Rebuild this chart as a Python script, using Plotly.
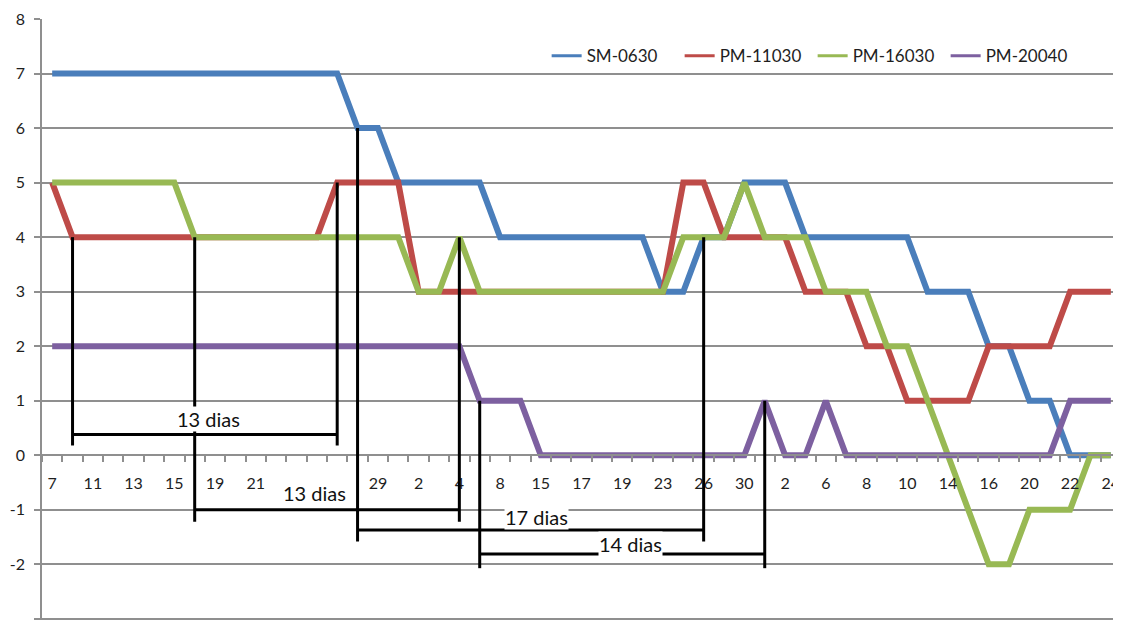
import plotly.graph_objects as go

# ---------------- data ----------------
dates = ["7", "9", "11", "12", "13", "14", "15", "17", "19", "20", "21", "22",
         "23", "25", "27", "28", "29", "1", "2", "3", "4", "5", "8", "11",
         "15", "16", "17", "18", "19", "21", "23", "25", "26", "28", "30", "1",
         "2", "4", "6", "7", "8", "9", "10", "12", "14", "15", "16", "18",
         "20", "21", "22", "23", "24"]
# labels that sit under the second "13 dias" text box in the original
hidden_dates = [12, 14]

y_ticks = [-3, -2, -1, 0, 1, 2, 3, 4, 5, 6, 7, 8]
y_ticktext = ["-3", "-2", "-1", "0", "1", "2", "3", "4", "5", "6", "7", "8"]

sm_0630 = [7, 7, 7, 7, 7, 7, 7, 7, 7, 7, 7, 7, 7, 7, 7, 6, 6, 5, 5, 5, 5, 5,
           4, 4, 4, 4, 4, 4, 4, 4, 3, 3, 4, 4, 5, 5, 5, 4, 4, 4, 4, 4, 4,
           3, 3, 3, 2, 2, 1, 1, 0, 0, 0]
pm_11030 = [5, 4, 4, 4, 4, 4, 4, 4, 4, 4, 4, 4, 4, 4, 5, 5, 5, 5, 3, 3, 3, 3,
            3, 3, 3, 3, 3, 3, 3, 3, 3, 5, 5, 4, 4, 4, 4, 3, 3, 3, 2, 2, 1,
            1, 1, 1, 2, 2, 2, 2, 3, 3, 3]
pm_16030 = [5, 5, 5, 5, 5, 5, 5, 4, 4, 4, 4, 4, 4, 4, 4, 4, 4, 4, 3, 3, 4, 3,
            3, 3, 3, 3, 3, 3, 3, 3, 3, 4, 4, 4, 5, 4, 4, 4, 3, 3, 3, 2, 2,
            1, 0, -1, -2, -2, -1, -1, -1, 0, 0]
pm_20040 = [2, 2, 2, 2, 2, 2, 2, 2, 2, 2, 2, 2, 2, 2, 2, 2, 2, 2, 2, 2, 2, 1,
            1, 1, 0, 0, 0, 0, 0, 0, 0, 0, 0, 0, 0, 1, 0, 0, 1, 0, 0, 0, 0,
            0, 0, 0, 0, 0, 0, 0, 1, 1, 1]

series_names = ["SM-0630", "PM-11030", "PM-16030", "PM-20040"]
series_values = [sm_0630, pm_11030, pm_16030, pm_20040]
series_colors = ["#4A7EBB", "#BE4B48", "#98B954", "#7D60A0"]

# day-count brackets
bracket_labels = ["13 dias", "13 dias", "17 dias", "14 dias"]
bracket_start = [1, 7, 15, 21]
bracket_end = [14, 20, 32, 35]
bracket_start_series = [pm_11030, pm_16030, sm_0630, pm_20040]
bracket_end_series = [pm_11030, pm_16030, sm_0630, pm_20040]
bracket_bar = [0.38, -1.0, -1.37, -1.81]
bracket_bottom = [0.18, -1.22, -1.58, -2.07]
label_x = [7.7, 12.9, 23.8, 28.4]
label_y = [0.66, -0.70, -1.13, -1.63]

x = list(range(len(dates)))
tick_idx = x[::2]
tick_txt = ["" if i in hidden_dates else dates[i] for i in tick_idx]

# ---------------- figure ----------------
GRID = "#8F8F8F"
FONT = "Lato, Liberation Sans, Arial, sans-serif"
TXT = "#1E1E1E"

fig = go.Figure()
for name, vals, col in zip(series_names, series_values, series_colors):
    fig.add_trace(go.Scatter(x=x, y=vals, mode="lines", name=name,
                             line=dict(color=col, width=6), showlegend=False,
                             hoverinfo="skip"))
for name, col in zip(series_names, series_colors):
    fig.add_trace(go.Scatter(x=[None], y=[None], mode="lines", name=name,
                             line=dict(color=col, width=3)))

shapes = []
for i in range(len(bracket_labels)):
    s, e = bracket_start[i], bracket_end[i]
    top_s = bracket_start_series[i][s]
    top_e = bracket_end_series[i][e]
    ln = dict(color="black", width=3)
    shapes.append(dict(type="line", xref="x", yref="y", x0=s, x1=s,
                       y0=bracket_bottom[i], y1=top_s, line=ln, layer="above"))
    shapes.append(dict(type="line", xref="x", yref="y", x0=e, x1=e,
                       y0=bracket_bottom[i], y1=top_e, line=ln, layer="above"))
    shapes.append(dict(type="line", xref="x", yref="y", x0=s, x1=e,
                       y0=bracket_bar[i], y1=bracket_bar[i], line=ln,
                       layer="above"))

annotations = []
for i in range(len(bracket_labels)):
    annotations.append(dict(x=label_x[i], y=label_y[i], xref="x", yref="y",
                            text=bracket_labels[i], showarrow=False,
                            font=dict(size=20, color="#111111", family=FONT),
                            bgcolor="white", borderpad=0))

# the page body has an 8px margin, so the figure is offset by 8px
fig.update_layout(
    width=1113, height=615,
    margin=dict(l=34, r=0, t=11, b=3, autoexpand=False),
    paper_bgcolor="white", plot_bgcolor="white",
    font=dict(family=FONT, size=16, color=TXT),
    shapes=shapes, annotations=annotations,
    legend=dict(orientation="h", x=0.4677, y=0.938, xanchor="left",
                yanchor="middle", bgcolor="rgba(0,0,0,0)",
                entrywidthmode="pixels", entrywidth=88,
                font=dict(size=17, color=TXT)),
    xaxis=dict(range=[-0.5, len(dates) - 0.5], anchor="free",
               position=3.02 / 11.02, automargin=False,
               tickmode="array", tickvals=tick_idx, ticktext=tick_txt,
               ticks="", showgrid=False, zeroline=False,
               showline=True, linecolor=GRID, linewidth=1.5,
               ticklabelstandoff=14, tickfont=dict(size=16),
               minor=dict(tickmode="array",
                          tickvals=[v - 0.5 for v in range(len(dates) + 1)],
                          ticks="outside", ticklen=6, tickcolor=GRID,
                          tickwidth=1.5, showgrid=False)),
    yaxis=dict(range=[-3.02, 8], tickmode="array", tickvals=y_ticks,
               ticktext=y_ticktext, showgrid=True, gridcolor=GRID,
               gridwidth=1.5, zeroline=False, showline=True, linecolor=GRID,
               linewidth=1.5, ticks="outside", ticklen=6, tickcolor=GRID,
               tickwidth=1.5, ticklabelstandoff=6, automargin=False,
               tickfont=dict(size=16)),
)

fig.write_html("out.html")
